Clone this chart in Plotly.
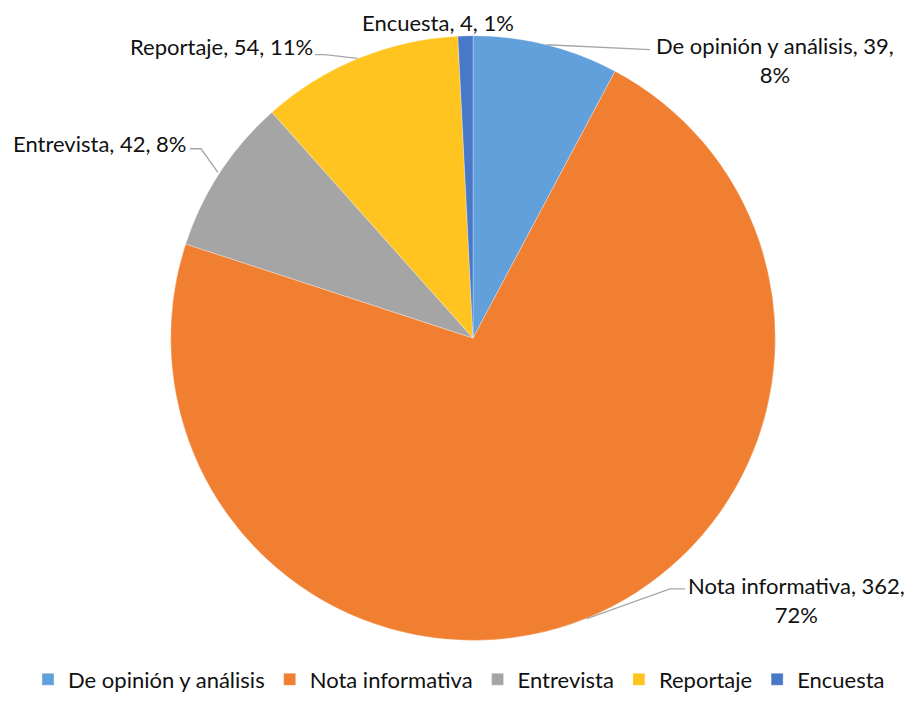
import math
import plotly.graph_objects as go

# ---- data ----
categories = ["De opinión y análisis", "Nota informativa", "Entrevista", "Reportaje", "Encuesta"]
values = [39, 362, 42, 54, 4]
pct_labels = ["8%", "72%", "8%", "11%", "1%"]
colors = ["#62A0DB", "#F07F31", "#A5A5A5", "#FFC41F", "#4A78C8"]

OFF = 8  # page body margin
W, H = 902, 693
CX, CY, R = 473 - OFF, 341 - OFF, 305  # pie centre / radius in pixels

dom_x = [(CX - R) / W, (CX + R) / W]
dom_y = [(H - CY - R) / H, (H - CY + R) / H]

fig = go.Figure(go.Pie(
    labels=categories,
    values=values,
    sort=False,
    direction="clockwise",
    rotation=0,
    marker=dict(colors=colors, line=dict(color="rgba(255,255,255,0.6)", width=0.5)),
    textinfo="none",
    hoverinfo="label+value+percent",
    domain=dict(x=dom_x, y=dom_y),
))

label_text = [
    f"{categories[0]}, {values[0]},<br>{pct_labels[0]}",
    f"{categories[1]}, {values[1]},<br>{pct_labels[1]}",
    f"{categories[2]}, {values[2]}, {pct_labels[2]}",
    f"{categories[3]}, {values[3]}, {pct_labels[3]}",
    f"{categories[4]}, {values[4]}, {pct_labels[4]}",
]
label_pos = [(775, 60), (796, 605), (99, 145), (221, 47), (438, 19)]
leaders = [
    [(650, 50)],
    [(670, 594), (685, 594)],
    [(201, 150), (190, 150)],
    [(325, 55), (315, 55)],
    None,
]

def px(x, y):
    return (x - OFF) / W, 1 - (y - OFF) / H

total = sum(values)
cum = 0
annotations = []
shapes = []
FONT = "Lato, 'Open Sans', sans-serif"
for i, v in enumerate(values):
    mid = (cum + v / 2) / total * 2 * math.pi
    cum += v
    ex = CX + OFF + R * math.sin(mid)
    ey = CY + OFF - R * math.cos(mid)
    tx, ty = px(*label_pos[i])
    ann = dict(
        x=tx, y=ty, xref="paper", yref="paper",
        text=label_text[i], showarrow=False,
        xanchor="center", yanchor="middle", align="center",
        borderpad=0,
        font=dict(family=FONT, size=22, color="#111111"),
    )
    if leaders[i] is None:
        ann["y"] = 1.0
        ann["yanchor"] = "top"
    annotations.append(ann)
    if leaders[i]:
        pts = [(ex, ey)] + leaders[i]
        path = "M " + " L ".join("{},{}".format(*px(x, y)) for x, y in pts)
        shapes.append(dict(type="path", path=path, xref="paper", yref="paper",
                           line=dict(color="#A6A6A6", width=1.3)))

fig.update_layout(
    width=W, height=H,
    margin=dict(l=0, r=0, t=0, b=0),
    paper_bgcolor="white",
    plot_bgcolor="white",
    font=dict(family=FONT, color="#111111"),
    showlegend=True,
    legend=dict(
        orientation="h", x=0.5, xanchor="center", y=-0.008, yanchor="bottom",
        font=dict(size=22, family=FONT, color="#111111"),
        itemwidth=30, traceorder="normal",
    ),
    annotations=annotations,
    shapes=shapes,
)

fig.write_html("out.html")
